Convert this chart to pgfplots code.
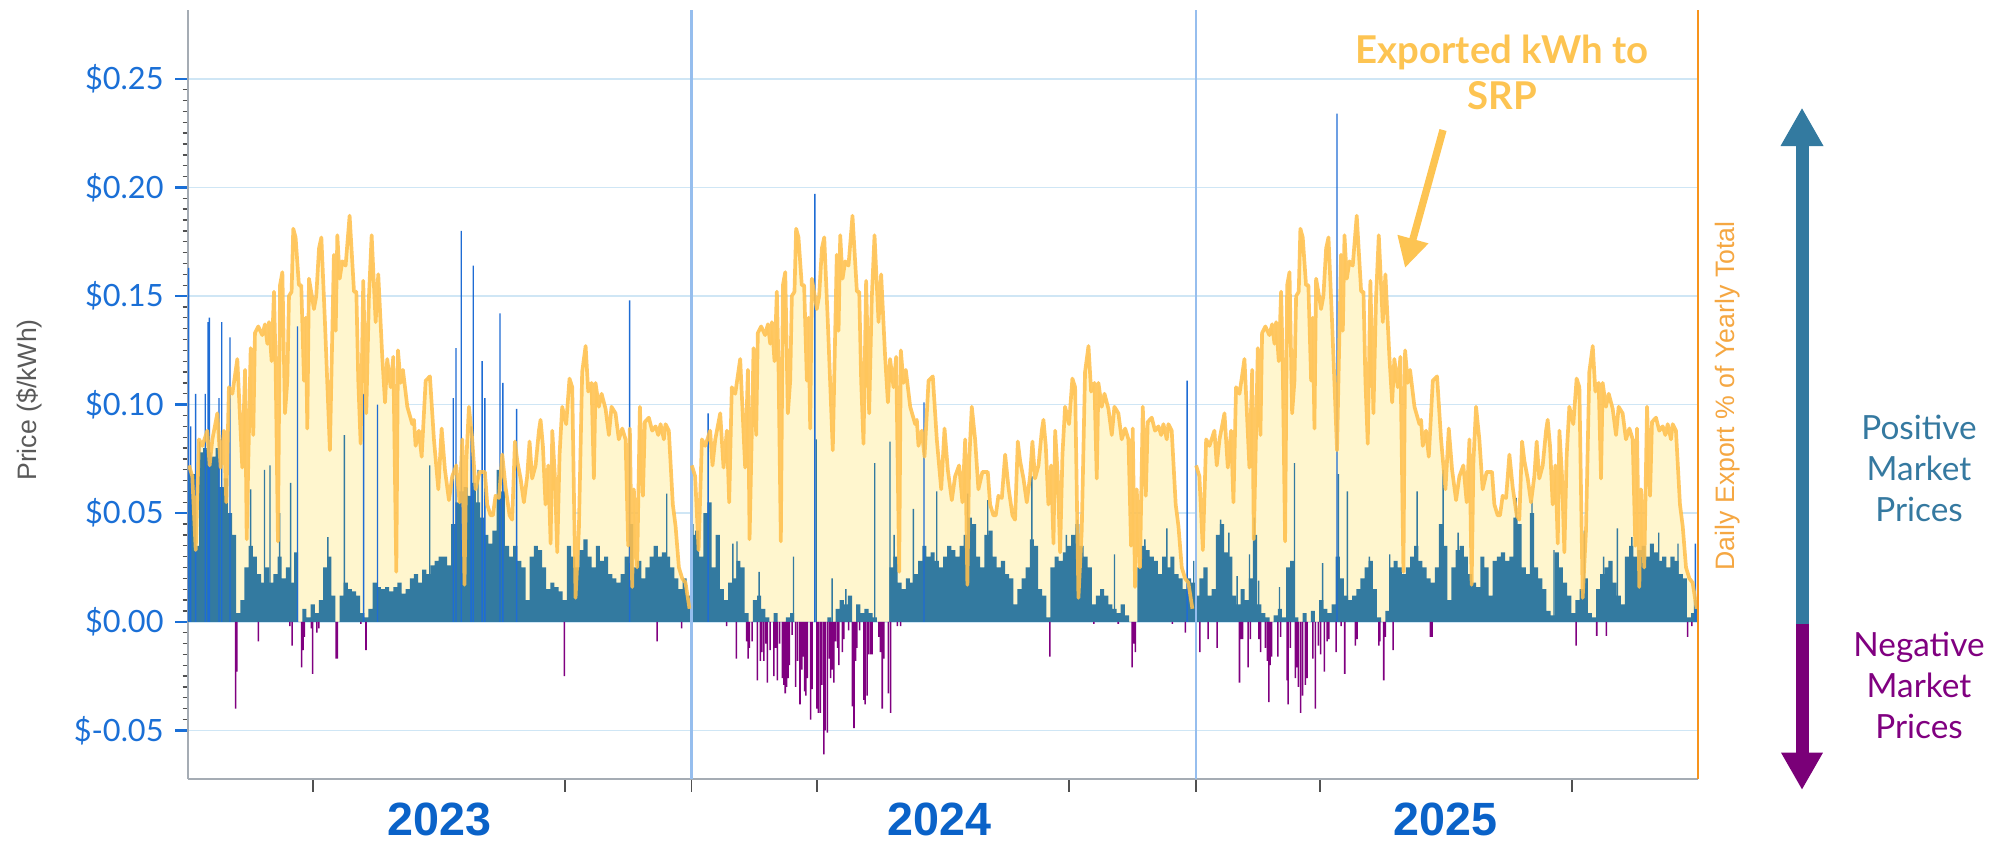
\documentclass[border=0pt]{standalone}
\usepackage{pgfplots}
\pgfplotsset{compat=1.18}
\usepackage{pgfplotstable}
\usepackage{fontspec}
\setmainfont{Lato}
\newfontfamily\lato{Lato}
\newfontfamily\lib{Liberation Sans}
\usetikzlibrary{arrows.meta}
\definecolor{tickblue}{RGB}{26,111,214}
\definecolor{yearblue}{RGB}{10,98,200}
\definecolor{barblue}{RGB}{51,122,160}
\definecolor{spikeblue}{RGB}{30,108,212}
\definecolor{negpurple}{RGB}{128,0,128}
\definecolor{expline}{RGB}{255,192,77}
\definecolor{expfill}{RGB}{255,246,206}
\definecolor{gridblue}{RGB}{207,230,245}
\definecolor{yearline}{RGB}{150,190,238}
\definecolor{axisgray}{RGB}{165,172,180}
\definecolor{orangeaxis}{RGB}{247,148,29}
\definecolor{posblue}{RGB}{53,121,160}
\definecolor{arrowpurple}{RGB}{122,0,120}
\definecolor{annot}{RGB}{253,196,82}
\definecolor{labelgray}{RGB}{90,90,90}
\definecolor{rlabel}{RGB}{245,167,66}
\definecolor{tickgray}{RGB}{80,80,80}

\pgfplotstableread{
d v
0.2 0.072
2.6 0.067
5.1 0.033
7.5 0.084
9.9 0.081
13.5 0.088
15.2 0.072
17.2 0.084
20.8 0.096
23.2 0.071
25.6 0.088
27.3 0.055
29.2 0.108
31.7 0.105
35.3 0.121
38.9 0.071
40.9 0.116
42.1 0.038
45.0 0.126
46.9 0.086
48.1 0.133
50.5 0.136
53.4 0.132
55.4 0.137
57.1 0.128
58.3 0.138
60.2 0.120
61.9 0.152
63.1 0.118
64.8 0.037
66.3 0.155
68.0 0.161
69.9 0.096
71.6 0.111
72.8 0.150
74.7 0.152
75.9 0.181
77.6 0.177
80.0 0.155
81.7 0.155
83.7 0.111
84.9 0.140
86.1 0.089
87.3 0.158
89.7 0.149
90.9 0.144
92.6 0.150
94.6 0.172
96.3 0.177
98.9 0.138
102.5 0.079
105.4 0.169
106.7 0.134
107.9 0.178
109.6 0.158
111.5 0.166
113.9 0.164
116.8 0.187
120.0 0.152
121.7 0.152
123.1 0.111
124.8 0.082
126.7 0.157
128.9 0.096
130.8 0.149
132.8 0.178
135.7 0.138
137.6 0.160
140.5 0.122
142.5 0.101
144.1 0.121
146.6 0.108
148.5 0.122
150.7 0.023
151.9 0.125
153.8 0.110
155.5 0.116
158.7 0.099
162.3 0.091
163.5 0.093
164.7 0.081
167.1 0.088
169.1 0.076
172.0 0.111
175.1 0.113
178.0 0.084
181.2 0.061
183.6 0.089
186.0 0.070
188.9 0.056
191.3 0.067
194.2 0.072
196.6 0.055
198.6 0.084
200.2 0.017
201.5 0.074
203.4 0.099
205.8 0.084
208.2 0.061
211.1 0.069
215.0 0.069
216.7 0.054
219.1 0.049
220.8 0.049
222.7 0.058
225.2 0.057
227.6 0.077
230.0 0.062
232.9 0.049
234.8 0.047
236.8 0.083
238.5 0.074
240.9 0.066
243.3 0.055
245.7 0.067
247.4 0.083
249.3 0.066
251.8 0.072
254.2 0.088
255.4 0.093
257.1 0.081
259.0 0.054
261.0 0.072
262.7 0.036
263.9 0.088
265.8 0.067
267.5 0.032
269.2 0.077
271.1 0.099
274.0 0.091
276.4 0.112
278.4 0.108
280.8 0.011
283.2 0.042
285.6 0.115
288.1 0.127
290.0 0.106
292.4 0.110
294.1 0.066
295.3 0.110
297.7 0.099
299.7 0.105
302.6 0.098
305.0 0.086
306.9 0.099
309.8 0.096
312.2 0.084
314.7 0.089
317.1 0.084
319.0 0.035
320.2 0.089
321.9 0.016
323.1 0.061
325.5 0.025
327.5 0.099
329.7 0.058
331.1 0.092
334.0 0.094
336.4 0.088
338.9 0.090
340.8 0.086
342.5 0.091
344.9 0.084
346.1 0.091
348.5 0.088
351.4 0.054
353.4 0.044
355.8 0.025
358.2 0.020
360.6 0.018
363.5 0.006
}\exportTbl

\begin{document}
\begin{tikzpicture}
\path[use as bounding box] (0,0) rectangle (602.7pt,252.9pt);
\begin{axis}[
  at={(56.4pt,19.2pt)}, anchor=south west,
  scale only axis, width=453pt, height=230.7pt,
  xmin=-0.5, xmax=1095.5, ymin=-0.0724, ymax=0.2817,
  axis x line*=bottom, axis y line*=left,
  axis line style={draw=axisgray, line width=0.8pt, -},
  xtick={90,273,365,456,639,731,821,1004}, xticklabels={},
  ytick={-0.05,0,0.05,0.1,0.15,0.2,0.25},
  yticklabels={\$-0.05,\$0.00,\$0.05,\$0.10,\$0.15,\$0.20,\$0.25},
  minor y tick num=9,
  tick align=outside,
  major tick length=3.8pt, minor tick length=1.6pt,
  every major y tick/.append style={tickblue, line width=0.7pt},
  every minor y tick/.append style={tickgray, line width=0.4pt},
  every major x tick/.append style={tickgray, line width=0.5pt},
  yticklabel style={font=\lato\fontsize{9.2}{10}\selectfont, text=tickblue},
  ymajorgrids, grid style={gridblue, line width=0.5pt},
]
% export area
\addplot[draw=none, fill=expfill] table[x expr=\thisrow{d}, y=v] {\exportTbl} \closedcycle;
\addplot[draw=none, fill=expfill] table[x expr=\thisrow{d}+365, y=v] {\exportTbl} \closedcycle;
\addplot[draw=none, fill=expfill] table[x expr=\thisrow{d}+731, y=v] {\exportTbl} \closedcycle;

% base positive prices (3-day)
\addplot[ybar, bar width=3, bar shift=0pt, fill=barblue, draw=none] coordinates {
(0,0.070)(3,0.068)(6,0.035)(9,0.078)(12,0.080)(15,0.078)(18,0.076)(21,0.080)(24,0.062)(27,0.066)(30,0.050)(33,0.040)(36,0.004)(39,0.010)(42,0.025)(45,0.035)(48,0.030)(51,0.022)(54,0.018)(57,0.025)(60,0.018)(63,0.022)(66,0.030)(69,0.020)(72,0.025)(75,0.018)(78,0.032)(81,0.000)(84,0.006)(87,0.002)(90,0.008)(93,0.004)(96,0.010)(99,0.025)(102,0.030)(105,0.012)(108,0.000)(111,0.012)(114,0.018)(117,0.015)(120,0.014)(123,0.012)(126,0.004)(129,0.002)(132,0.006)(135,0.018)(138,0.016)(141,0.015)(144,0.016)(147,0.014)(150,0.016)(153,0.018)(156,0.013)(159,0.015)(162,0.020)(165,0.022)(168,0.018)(171,0.024)(174,0.022)(177,0.026)(180,0.028)(183,0.030)(186,0.030)(189,0.026)(192,0.045)(195,0.055)(198,0.060)(201,0.062)(204,0.058)(207,0.064)(210,0.055)(213,0.048)(216,0.040)(219,0.036)(222,0.042)(225,0.070)(228,0.060)(231,0.035)(234,0.030)(237,0.035)(240,0.028)(243,0.025)(246,0.010)(249,0.030)(252,0.035)(255,0.033)(258,0.025)(261,0.015)(264,0.018)(267,0.016)(270,0.014)(273,0.010)(276,0.035)(279,0.030)(282,0.025)(285,0.033)(288,0.038)(291,0.030)(294,0.025)(297,0.035)(300,0.028)(303,0.030)(306,0.022)(309,0.020)(312,0.018)(315,0.022)(318,0.030)(321,0.045)(324,0.025)(327,0.028)(330,0.020)(333,0.025)(336,0.030)(339,0.035)(342,0.030)(345,0.032)(348,0.030)(351,0.025)(354,0.020)(357,0.015)(360,0.020)(363,0.012)
(366,0.040)(369,0.042)(372,0.030)(375,0.050)(378,0.055)(381,0.025)(384,0.040)(387,0.015)(390,0.010)(393,0.018)(396,0.020)(399,0.028)(402,0.025)(405,0.004)(408,0.000)(411,0.010)(414,0.012)(417,0.006)(420,0.002)(423,0.000)(426,0.004)(429,0.000)(432,0.000)(435,0.002)(438,0.004)(441,0.000)(444,0.000)(447,0.000)(450,0.000)(453,0.000)(456,0.000)(459,0.000)(462,0.000)(465,0.002)(468,0.000)(471,0.006)(474,0.010)(477,0.008)(480,0.012)(483,0.000)(486,0.008)(489,0.004)(492,0.006)(495,0.004)(498,0.002)(501,0.000)(504,0.000)(507,0.000)(510,0.025)(513,0.030)(516,0.018)(519,0.015)(522,0.020)(525,0.018)(528,0.022)(531,0.028)(534,0.035)(537,0.030)(540,0.032)(543,0.028)(546,0.025)(549,0.030)(552,0.035)(555,0.033)(558,0.030)(561,0.035)(564,0.040)(567,0.048)(570,0.045)(573,0.030)(576,0.025)(579,0.040)(582,0.042)(585,0.030)(588,0.025)(591,0.028)(594,0.022)(597,0.020)(600,0.008)(603,0.015)(606,0.020)(609,0.025)(612,0.038)(615,0.035)(618,0.015)(621,0.012)(624,0.002)(627,0.025)(630,0.030)(633,0.028)(636,0.032)(639,0.035)(642,0.040)(645,0.045)(648,0.035)(651,0.030)(654,0.025)(657,0.008)(660,0.012)(663,0.015)(666,0.012)(669,0.008)(672,0.006)(675,0.004)(678,0.008)(681,0.003)(684,0.000)(687,0.000)(690,0.025)(693,0.035)(696,0.033)(699,0.030)(702,0.028)(705,0.022)(708,0.030)(711,0.025)(714,0.030)(717,0.022)(720,0.020)(723,0.015)(726,0.020)(729,0.018)
(732,0.012)(735,0.020)(738,0.025)(741,0.012)(744,0.015)(747,0.040)(750,0.045)(753,0.032)(756,0.030)(759,0.012)(762,0.008)(765,0.015)(768,0.010)(771,0.020)(774,0.040)(777,0.008)(780,0.004)(783,0.002)(786,0.000)(789,0.003)(792,0.006)(795,0.002)(798,0.025)(801,0.028)(804,0.002)(807,0.000)(810,0.004)(813,0.000)(816,0.005)(819,0.000)(822,0.010)(825,0.006)(828,0.004)(831,0.008)(834,0.030)(837,0.020)(840,0.012)(843,0.010)(846,0.012)(849,0.015)(852,0.020)(855,0.025)(858,0.028)(861,0.015)(864,0.002)(867,0.000)(870,0.005)(873,0.025)(876,0.028)(879,0.025)(882,0.022)(885,0.025)(888,0.030)(891,0.035)(894,0.028)(897,0.025)(900,0.020)(903,0.018)(906,0.025)(909,0.045)(912,0.035)(915,0.010)(918,0.025)(921,0.033)(924,0.035)(927,0.030)(930,0.022)(933,0.018)(936,0.016)(939,0.030)(942,0.025)(945,0.012)(948,0.028)(951,0.030)(954,0.032)(957,0.028)(960,0.030)(963,0.048)(966,0.045)(969,0.025)(972,0.022)(975,0.050)(978,0.025)(981,0.020)(984,0.015)(987,0.005)(990,0.003)(993,0.032)(996,0.025)(999,0.018)(1002,0.012)(1005,0.004)(1008,0.010)(1011,0.015)(1014,0.020)(1017,0.004)(1020,0.002)(1023,0.015)(1026,0.022)(1029,0.025)(1032,0.028)(1035,0.018)(1038,0.012)(1041,0.008)(1044,0.030)(1047,0.035)(1050,0.030)(1053,0.033)(1056,0.035)(1059,0.030)(1062,0.036)(1065,0.032)(1068,0.028)(1071,0.030)(1074,0.025)(1077,0.030)(1080,0.028)(1083,0.022)(1086,0.020)(1089,0.002)(1092,0.004)(1094,0.010)
};

% lower single-day spikes
\addplot[ybar, bar width=1, bar shift=0pt, fill=barblue, draw=none] coordinates {
(8,0.083)(45,0.061)(55,0.07)(59,0.072)(66,0.05)(74,0.064)(101,0.039)(113,0.086)(175,0.072)(210,0.07)(347,0.059)(366,0.045)(395,0.036)(398,0.037)(414,0.023)(439,0.030)(455.5,0.084)(467,0.020)(477,0.015)(498,0.073)(509,0.083)(512,0.040)(526,0.052)(543,0.060)(565.5,0.059)(580,0.056)(612,0.067)(637,0.040)(645,0.047)(672,0.031)(694,0.038)(710,0.043)(729.5,0.028)(749,0.047)(755,0.041)(761,0.021)(770,0.031)(773.5,0.048)(776.6,0.019)(791.7,0.016)(802.6,0.073)(823,0.027)(834.5,0.068)(841,0.060)(857,0.03)(871.8,0.031)(891.6,0.060)(910.5,0.07)(921.4,0.041)(963.5,0.057)(975,0.056)(991,0.033)(1013,0.042)(1027,0.030)(1037,0.043)(1047.5,0.039)(1067,0.041)(1081,0.036)
};

% tall single-day spikes
\addplot[ybar, bar width=1, bar shift=0pt, fill=spikeblue, draw=none] coordinates {
(0,0.163)(1.5,0.09)(5,0.105)(12,0.105)(14,0.138)(15,0.14)(22,0.103)(24,0.138)(30,0.131)(79,0.136)(127,0.105)(137,0.1)(192,0.103)(194,0.126)(197.8,0.18)(205,0.09)(206.5,0.164)(213,0.12)(215,0.103)(226,0.142)(228,0.11)(238,0.098)(320,0.148)(377,0.096)(454.5,0.197)(533.7,0.101)(724.7,0.111)(833.5,0.234)(1093.6,0.036)
};

% negative prices
\addplot[ybar, bar width=1.1, bar shift=0pt, fill=negpurple, draw=none] coordinates {
(34,-0.040)(35,-0.023)(50.5,-0.009)(73.5,-0.002)(75,-0.011)(82,-0.021)(83,-0.013)(84,-0.007)(89,-0.003)(90,-0.024)(93,-0.005)(94.5,-0.003)(107,-0.017)(108,-0.017)(125,-0.001)(128.7,-0.013)(272.6,-0.025)(340,-0.009)(357.7,-0.003)
(390.5,-0.002)(397.5,-0.017)(405,-0.009)(406,-0.017)(407,-0.012)(409,-0.009)(412.7,-0.027)(415,-0.018)(416,-0.014)(417.5,-0.018)(419,-0.010)(420,-0.028)(422,-0.013)(424.8,-0.025)(426,-0.012)(427.2,-0.027)(429,-0.010)(431,-0.026)(432,-0.029)(433,-0.033)(434,-0.030)(435,-0.026)(436,-0.020)(438,-0.006)(440.5,-0.030)(442,-0.018)(443.7,-0.038)(445,-0.022)(446,-0.016)(447,-0.032)(448,-0.034)(449,-0.026)(451.4,-0.045)(452.5,-0.031)(456,-0.040)(457,-0.042)(458.5,-0.042)(459.5,-0.029)(461,-0.061)(462,-0.050)(463.5,-0.051)(465,-0.017)(466,-0.026)(467,-0.022)(468.3,-0.028)(469.5,-0.009)(471,-0.012)(472,-0.020)(474.4,-0.014)(475.5,-0.008)(479,-0.004)(481.7,-0.039)(482.9,-0.049)(484,-0.018)(485,-0.012)(487,-0.004)(490,-0.036)(491,-0.038)(492.5,-0.034)(493.5,-0.015)(495,-0.015)(496,-0.015)(501,-0.007)(502,-0.014)(503.4,-0.040)(504.6,-0.017)(507.8,-0.033)(509.5,-0.042)(514.3,-0.002)(516.7,-0.002)(625,-0.016)(657,-0.001)(674.7,-0.001)(684.8,-0.021)(685.8,-0.010)(687.2,-0.014)(714,-0.001)(723.5,-0.005)
(733.9,-0.014)(740,-0.008)(746.5,-0.012)(762.7,-0.028)(764,-0.008)(765,-0.008)(769,-0.021)(770.6,-0.008)(776.7,-0.008)(778,-0.014)(781.5,-0.012)(783,-0.018)(784,-0.037)(785,-0.020)(786,-0.016)(790.5,-0.016)(792.5,-0.007)(797.3,-0.027)(798,-0.038)(799.6,-0.012)(803.3,-0.026)(804.5,-0.021)(805.5,-0.030)(807,-0.042)(808.6,-0.034)(810.5,-0.029)(811.8,-0.026)(816,-0.017)(817.8,-0.040)(820,-0.011)(821.5,-0.015)(824.3,-0.023)(826.3,-0.009)(827.5,-0.008)(832.8,-0.014)(836.5,-0.002)(839.1,-0.024)(846.8,-0.011)(848,-0.008)(863.8,-0.011)(864.5,-0.009)(867.4,-0.027)(868.6,-0.007)(874.2,-0.013)(901.3,-0.007)(902.5,-0.007)(1007,-0.011)(1022,-0.0065)(1029,-0.0065)(1088,-0.007)(1091,-0.002)
};

% year separators
\draw[yearline, line width=0.7pt] (axis cs:365,-0.0724) -- (axis cs:365,0.2817);
\draw[yearline, line width=0.7pt] (axis cs:731,-0.0724) -- (axis cs:731,0.2817);

% export line
\addplot[expline, line width=1.1pt, draw opacity=0.88, line join=round] table[x expr=\thisrow{d}, y=v] {\exportTbl};
\addplot[expline, line width=1.1pt, draw opacity=0.88, line join=round] table[x expr=\thisrow{d}+365, y=v] {\exportTbl};
\addplot[expline, line width=1.1pt, draw opacity=0.88, line join=round] table[x expr=\thisrow{d}+731, y=v] {\exportTbl};
\end{axis}

% right axis line
\draw[orangeaxis, line width=0.8pt] (509.4pt,19.2pt) -- (509.4pt,249.9pt);

% axis titles
\node[rotate=90, font=\lib\fontsize{8}{10}\selectfont, text=labelgray] at (8.85pt,132.9pt) {Price (\$/kWh)};
\node[rotate=90, font=\lib\fontsize{8}{10}\selectfont, text=rlabel] at (518.3pt,134.1pt) {Daily Export \% of Yearly Total};

% year labels
\node[font=\lib\bfseries\fontsize{14}{16}\selectfont, text=yearblue, anchor=base] at (131.9pt,2.4pt) {2023};
\node[font=\lib\bfseries\fontsize{14}{16}\selectfont, text=yearblue, anchor=base] at (281.8pt,2.4pt) {2024};
\node[font=\lib\bfseries\fontsize{14}{16}\selectfont, text=yearblue, anchor=base] at (433.6pt,2.4pt) {2025};

% annotation
\node[font=\lato\bfseries\fontsize{11.5}{13}\selectfont, text=annot, anchor=base] at (450.6pt,234pt) {Exported kWh to};
\node[font=\lato\bfseries\fontsize{11.5}{13}\selectfont, text=annot, anchor=base] at (450.6pt,220pt) {SRP};
\draw[annot, line width=2.2pt, -{Triangle[length=9pt,width=9pt]}] (432.9pt,213.9pt) -- (421.5pt,172.5pt);

% market arrows
\draw[barblue, line width=3.9pt, -{Triangle[length=11.5pt,width=12pt]}] (540.6pt,65.8pt) -- (540.6pt,220.6pt);
\draw[arrowpurple, line width=3.9pt, -{Triangle[length=11.2pt,width=11.7pt]}] (540.6pt,65.8pt) -- (540.6pt,15.9pt);

% market texts
\node[font=\lato\fontsize{10}{12}\selectfont, text=posblue, anchor=base] at (575.7pt,121pt) {Positive};
\node[font=\lato\fontsize{10}{12}\selectfont, text=posblue, anchor=base] at (575.7pt,108.7pt) {Market};
\node[font=\lato\fontsize{10}{12}\selectfont, text=posblue, anchor=base] at (575.7pt,96.4pt) {Prices};
\node[font=\lato\fontsize{10}{12}\selectfont, text=negpurple, anchor=base] at (575.7pt,56pt) {Negative};
\node[font=\lato\fontsize{10}{12}\selectfont, text=negpurple, anchor=base] at (575.7pt,43.7pt) {Market};
\node[font=\lato\fontsize{10}{12}\selectfont, text=negpurple, anchor=base] at (575.7pt,31.4pt) {Prices};
\end{tikzpicture}
\end{document}
